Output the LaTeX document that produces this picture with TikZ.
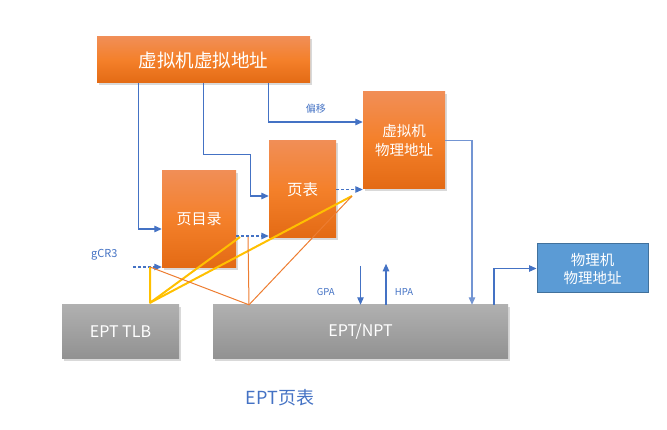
\documentclass[tikz,border=0pt]{standalone}
\usepackage{fontspec}
\setmainfont{Noto Sans CJK SC}
\definecolor{linkblue}{RGB}{68, 114, 196}
\definecolor{orangetop}{RGB}{241, 142, 86}
\definecolor{orangemid}{RGB}{244, 128, 42}
\definecolor{orangebot}{RGB}{227, 106, 20}
\definecolor{graytop}{RGB}{176, 176, 176}
\definecolor{graybot}{RGB}{145, 145, 145}
\definecolor{hpablue}{RGB}{91, 155, 213}
\definecolor{hpaedge}{RGB}{65, 113, 156}
\definecolor{tlbyellow}{RGB}{255, 192, 0}
\definecolor{walkorange}{RGB}{237, 125, 49}
\usepackage{tikz}
\usetikzlibrary{arrows.meta, positioning, calc, shadows}

\begin{document}
\begin{tikzpicture}[x=1pt, y=-1pt,
  obox/.style={top color=orangetop, bottom color=orangebot, middle color=orangemid, text=white, align=center,
    drop shadow={opacity=0.3, shadow xshift=1.5pt, shadow yshift=-2pt}},
  gbox/.style={top color=graytop, bottom color=graybot, text=white,
    drop shadow={opacity=0.3, shadow xshift=1.5pt, shadow yshift=-2pt}},
  link/.style={draw=linkblue, line width=1.1pt, -{Triangle[length=7.5pt, width=6.5pt]}},
  dlink/.style={link, dash pattern=on 3pt off 2pt},
  tlbwalk/.style={draw=tlbyellow, line width=2pt, line join=round},
  ptwalk/.style={draw=walkorange, line width=1pt},
  lbl/.style={text=linkblue, font=\fontsize{9.5pt}{11pt}\selectfont}
]
  \useasboundingbox (0,0) rectangle (667,430);

  % Guest side boxes
  \node[obox, minimum width=213pt, minimum height=46pt, font=\fontsize{18.5pt}{21pt}\selectfont] (gva) at (203.5, 60) {虚拟机虚拟地址};
  \node[obox, minimum width=74pt, minimum height=97pt, font=\fontsize{15pt}{18pt}\selectfont] (pd) at (199, 219.5) {页目录};
  \node[obox, minimum width=67pt, minimum height=97pt, font=\fontsize{15.5pt}{18pt}\selectfont] (pt) at (302.5, 189.5) {页表};
  \node[obox, minimum width=82pt, minimum height=97pt, font=\fontsize{14.5pt}{19pt}\selectfont] (gpa) at (404, 140.5) {虚拟机\\物理地址};

  % Host side boxes
  \node[draw=hpaedge, fill=hpablue, line width=1pt, text=white, align=center, minimum width=111pt, minimum height=49pt,
    font=\fontsize{14.5pt}{18pt}\selectfont] (hpa) at (592.5, 268.5) {物理机\\物理地址};
  \node[gbox, minimum width=117pt, minimum height=54pt, font=\fontsize{16pt}{19pt}\selectfont] (tlb) at (120.5, 332) {EPT TLB};
  \node[gbox, minimum width=295pt, minimum height=54pt, font=\fontsize{16pt}{19pt}\selectfont] (npt) at (360.5, 332) {EPT/NPT};

  \node[text=linkblue, font=\fontsize{18pt}{21pt}\selectfont] (cap) at (280, 398) {EPT页表};

  % Virtual address fields
  \draw[link] ([xshift=42pt]gva.south west) |- ([yshift=-9.5pt]pd.west);
  \draw[link] ([xshift=107pt]gva.south west) |- ++(47,71) |- ([yshift=-6.5pt]pt.west);
  \draw[link] ([xshift=172pt]gva.south west) |- ([yshift=18.5pt]gpa.west)
    node[lbl, pos=0.75, above=5pt, font=\fontsize{10pt}{12pt}\selectfont] (off) {偏移};

  % Walk through the guest tables
  \coordinate (gcr) at (133, 267);
  \coordinate (pdout) at ([yshift=-16.5pt]pd.east);
  \coordinate (ptout) at (pt.east);
  \node[text=linkblue, font=\fontsize{11pt}{13pt}\selectfont, anchor=east] (gcrlbl) at (121, 255) {gCR3};
  \draw[dlink] (gcr) -- (gcr -| pd.west);
  \draw[dlink] (pdout) -- (pdout -| pt.west);
  \draw[dlink] (ptout) -- (ptout -| gpa.west);

  % Guest physical address to EPT, and out to the host
  \draw[link, draw=linkblue!75] (gpa.east) -| ([xshift=111.5pt]npt.north);
  \draw[link] ([xshift=133.5pt]npt.north) |- (hpa.west);
  \draw[link] ([yshift=39pt]npt.north) -- (npt.north) node[lbl, pos=0.67, left=22pt] (gpalbl) {GPA};
  \draw[link] ([xshift=25.5pt]npt.north) -- ++(0,-41) node[lbl, pos=0.32, right=5pt] (hpalbl) {HPA};

  % TLB and EPT lookups
  \coordinate (tlbhit) at ([xshift=29.5pt, yshift=2pt]tlb.north);
  \coordinate (npthit) at ([xshift=-111.5pt]npt.north);
  \coordinate (gcrhit) at (150, 267);
  \coordinate (pdhit) at (240, 237);
  \coordinate (pthit) at (352, 196);
  \draw[tlbwalk] (gcrhit) -- (tlbhit) -- (pdhit);
  \draw[tlbwalk] (tlbhit) -- (pthit);
  \draw[ptwalk] (gcrhit) -- (npthit) -- (pthit);
  \draw[ptwalk] (248, 237) -- (npthit);
\end{tikzpicture}
\end{document}
